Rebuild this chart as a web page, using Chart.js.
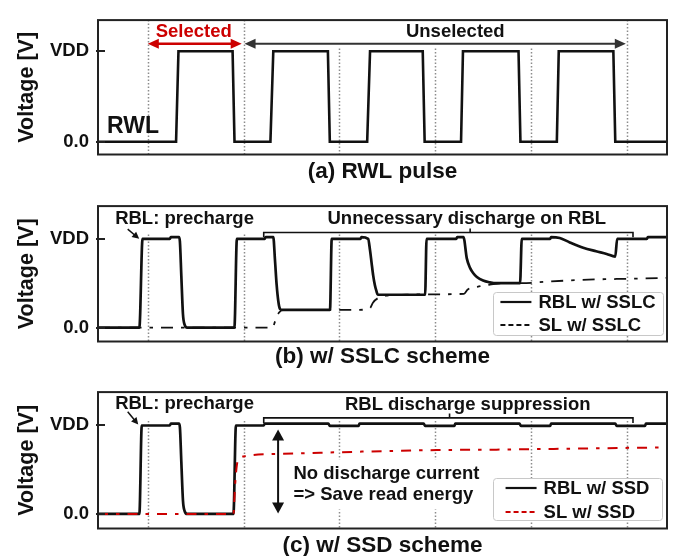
<!DOCTYPE html>
<html><head><meta charset="utf-8">
<script src="https://cdn.jsdelivr.net/npm/chart.js@4.4.1/dist/chart.umd.min.js"></script>
<style>
html,body{margin:0;padding:0;background:#fff;width:674px;height:556px;overflow:hidden}
canvas{position:absolute;left:0}
</style></head><body>
<canvas id="ca" width="674" height="185" style="top:0"></canvas>
<canvas id="cb" width="674" height="184" style="top:186px"></canvas>
<canvas id="cc" width="674" height="187" style="top:372px"></canvas>
<script>
// ---------- data ----------
const yTickValues = [0, 1];
const yTickLabels = ['0.0', 'VDD'];
const periodMarks = [0, 10, 20, 30, 40, 50];

// (a) RWL pulse
const rwlTime = [-5.2, 2.95, 3.2, 8.85, 9.05, 12.8, 13.1, 18.8, 19.0, 22.9, 23.2, 28.7, 28.9, 32.7, 32.9, 38.7, 38.9, 42.7, 42.9, 48.6, 48.8, 54.2];
const rwlVolt = [0, 0, 1, 1, 0, 0, 1, 1, 0, 0, 1, 1, 0, 0, 1, 1, 0, 0, 1, 1, 0, 0];

// (b) with SSLC
const rblSslcTime = [-5.2, -0.88, -0.55, 2.3, 2.4, 3.25, 3.35, 3.5, 3.67, 3.85, 4.1, 9.04, 9.3, 12.2, 12.3, 13.1, 13.27, 13.45, 13.62, 13.8, 14.0, 19.02, 19.2, 22.2, 22.3, 23.0, 23.2, 23.36, 23.53, 23.7, 23.87, 24.0, 24.4, 28.95, 29.1, 32.2, 32.3, 32.95, 33.3, 33.65, 34.0, 34.35, 35.0, 35.7, 36.4, 37.8, 38.86, 39.04, 42.0, 42.1, 43.0, 44.05, 45.45, 46.8, 47.9, 48.8, 49.0, 52.1, 52.2, 54.2];
const rblSslc     = [0, 0, 1.0, 1.0, 1.02, 1.02, 0.97, 0.58, 0.15, 0.03, 0, 0, 1.0, 1.0, 1.02, 1.02, 0.77, 0.48, 0.30, 0.21, 0.2, 0.2, 1.0, 1.0, 1.02, 1.0, 0.87, 0.73, 0.585, 0.48, 0.41, 0.37, 0.37, 0.37, 1.0, 1.0, 1.02, 1.02, 0.78, 0.67, 0.61, 0.57, 0.53, 0.51, 0.5, 0.5, 0.5, 1.0, 1.0, 1.02, 1.01, 0.96, 0.90, 0.86, 0.83, 0.80, 1.0, 1.0, 1.02, 1.02];
const slSslcTime = [-5.2, 13.0, 13.35, 13.7, 14.2, 19.0, 22.0, 23.2, 23.5, 24.0, 25.0, 27.0, 30.0, 33.0, 33.4, 34.4, 35.4, 37.0, 39.0, 42.0, 46.0, 50.0, 54.2];
const slSslc     = [0, 0, 0.09, 0.17, 0.2, 0.2, 0.2, 0.22, 0.28, 0.33, 0.36, 0.37, 0.375, 0.38, 0.43, 0.46, 0.48, 0.5, 0.5, 0.52, 0.54, 0.55, 0.56];

// (c) with SSD
const rblSsdTime = [-5.2, -0.88, -0.63, 2.3, 2.4, 3.25, 3.35, 3.5, 3.67, 3.85, 4.1, 8.94, 9.2, 12.1, 12.2, 18.85, 19.0, 22.0, 22.1, 28.8, 28.95, 32.0, 32.1, 38.8, 38.95, 42.0, 42.1, 48.8, 48.95, 51.9, 52.0, 54.2];
const rblSsd     = [0, 0, 0.99, 0.99, 1.01, 1.01, 0.97, 0.58, 0.15, 0.03, 0, 0, 0.99, 0.99, 1.01, 1.01, 0.985, 0.985, 1.01, 1.01, 0.985, 0.985, 1.01, 1.01, 0.985, 0.985, 1.01, 1.01, 0.985, 0.985, 1.01, 1.01];
const slSsdTime = [-5.2, 8.94, 9.1, 9.3, 9.6, 10.3, 11.0, 12.8, 16.3, 19.7, 23.2, 30.2, 36.4, 46.9, 54.2];
const slSsd     = [0, 0, 0.3, 0.55, 0.62, 0.65, 0.66, 0.67, 0.68, 0.69, 0.70, 0.715, 0.72, 0.735, 0.745];

// ---------- helpers ----------
const FONT = '"Liberation Sans", Arial, Helvetica, sans-serif';
const bold = s => `bold ${s}px ${FONT}`;
const pts = (ts, vs) => ts.map((t, i) => ({x: t, y: vs[i]}));

function head(ctx, x1, y1, x2, y2, len, half) {
  const a = Math.atan2(y2 - y1, x2 - x1), c = Math.cos(a), s = Math.sin(a);
  ctx.beginPath();
  ctx.moveTo(x2, y2);
  ctx.lineTo(x2 - len * c + half * s, y2 - len * s - half * c);
  ctx.lineTo(x2 - len * c - half * s, y2 - len * s + half * c);
  ctx.closePath(); ctx.fill();
}

const panelPlugin = {
  id: 'panel',
  beforeDatasetsDraw(chart, args, o) {
    const {ctx, chartArea: a} = chart, xs = chart.scales.x, ys = chart.scales.y;
    ctx.save();
    ctx.strokeStyle = '#8c8c8c'; ctx.lineWidth = 1.5; ctx.setLineDash([1.5, 2]);
    periodMarks.forEach((t, i) => {
      const x = Math.round(xs.getPixelForValue(t)) + 0.5;
      const top = o.markTops[i] == null ? a.top : ys.getPixelForValue(o.markTops[i]);
      ctx.beginPath(); ctx.moveTo(x, top); ctx.lineTo(x, a.bottom); ctx.stroke();
    });
    ctx.restore();
  },
  afterDatasetsDraw(chart, args, o) {
    const {ctx, chartArea: a} = chart, xs = chart.scales.x, ys = chart.scales.y;
    const X = t => xs.getPixelForValue(t), Y = v => ys.getPixelForValue(v);
    ctx.save();
    (o.items || []).forEach(it => {
      const col = it.color || '#111';
      ctx.fillStyle = col; ctx.strokeStyle = col; ctx.setLineDash([]);
      if (it.type === 'text') {
        ctx.font = bold(it.size || 18.5);
        ctx.textAlign = it.align || 'center'; ctx.textBaseline = 'middle';
        ctx.fillText(it.text, X(it.t), Y(it.v));
      } else if (it.type === 'block') {
        ctx.font = bold(it.size || 18.5);
        const w = Math.max(...it.lines.map(l => ctx.measureText(l).width));
        const x = X(it.t), y1 = Y(it.v), y2 = Y(it.v - it.gap * (it.lines.length - 1));
        ctx.fillStyle = '#fff';
        ctx.fillRect(x - 3, y1 - 15, w + 6, y2 - y1 + 30);
        ctx.fillStyle = col; ctx.textAlign = 'left'; ctx.textBaseline = 'middle';
        it.lines.forEach((l, i) => ctx.fillText(l, x, Y(it.v - it.gap * i)));
      } else if (it.type === 'arrow') {
        const x1 = X(it.t1), y1 = Y(it.v1), x2 = X(it.t2), y2 = Y(it.v2);
        const L = Math.hypot(x2 - x1, y2 - y1), ux = (x2 - x1) / L, uy = (y2 - y1) / L;
        const both = it.heads === 'both';
        ctx.lineWidth = it.lw;
        ctx.beginPath();
        ctx.moveTo(both ? x1 + ux * it.len * 0.8 : x1, both ? y1 + uy * it.len * 0.8 : y1);
        ctx.lineTo(x2 - ux * it.len * 0.8, y2 - uy * it.len * 0.8);
        ctx.stroke();
        head(ctx, x1, y1, x2, y2, it.len, it.half);
        if (both) head(ctx, x2, y2, x1, y1, it.len, it.half);
      } else if (it.type === 'bracket') {
        const x1 = X(it.t1), x2 = X(it.t2), y = Y(it.v), yl = Y(it.legV), xt = X(it.tickT), yt = Y(it.tickV);
        ctx.lineWidth = 1.6;
        ctx.beginPath();
        ctx.moveTo(x1, yl); ctx.lineTo(x1, y); ctx.lineTo(x2, y); ctx.lineTo(x2, yl);
        ctx.moveTo(xt, y); ctx.lineTo(xt, yt);
        ctx.stroke();
      }
    });
    // legend box
    const lg = o.legend;
    if (lg) {
      const bx = a.right - lg.right - lg.w, by = a.bottom - lg.bottom - lg.h;
      ctx.fillStyle = '#fff'; ctx.strokeStyle = '#c8c8c8'; ctx.lineWidth = 1; ctx.setLineDash([]);
      ctx.beginPath(); ctx.roundRect(bx + 0.5, by + 0.5, lg.w, lg.h, 3); ctx.fill(); ctx.stroke();
      ctx.font = bold(18.5);
      const ds = chart.data.datasets;
      const tw = Math.max(...ds.map(d => ctx.measureText(d.label).width));
      const sample = 31, gap = 7;
      const cx = bx + (lg.w - (sample + gap + tw)) / 2;
      ds.forEach((d, i) => {
        const y = by + lg.rows[i];
        ctx.strokeStyle = d.borderColor; ctx.lineWidth = 2.2; ctx.setLineDash(lg.dashes[i]);
        ctx.beginPath(); ctx.moveTo(cx, y); ctx.lineTo(cx + sample, y); ctx.stroke();
        ctx.setLineDash([]);
        ctx.fillStyle = '#111'; ctx.textAlign = 'left'; ctx.textBaseline = 'middle';
        ctx.fillText(d.label, cx + sample + gap, y + 1);
      });
    }
    // frame and inward tick marks
    ctx.setLineDash([]);
    ctx.strokeStyle = '#222'; ctx.lineWidth = 2;
    ctx.strokeRect(a.left, a.top, a.right - a.left, a.bottom - a.top);
    yTickValues.forEach(v => {
      const y = Math.round(Y(v));
      ctx.beginPath(); ctx.moveTo(a.left - 2, y); ctx.lineTo(a.left + 7, y); ctx.stroke();
    });
    ctx.restore();
  }
};

function makeChart(id, p) {
  return new Chart(document.getElementById(id), {
    type: 'line',
    data: {datasets: p.datasets},
    plugins: [panelPlugin],
    options: {
      responsive: false, animation: false, devicePixelRatio: 1,
      layout: {padding: {top: p.padTop, right: 7, left: 0, bottom: 0}},
      elements: {point: {radius: 0}, line: {tension: 0}},
      plugins: {
        legend: {display: false}, tooltip: {enabled: false},
        title: {display: true, text: p.title, position: 'bottom', fullSize: false, color: '#111',
                font: {family: FONT, size: 22.5, weight: 'bold'}, padding: {top: p.titlePad, bottom: 0}},
        panel: {markTops: p.markTops, items: p.items, legend: p.legend}
      },
      scales: {
        x: {type: 'linear', min: -5.2, max: 54.2, display: false},
        y: {
          min: p.yMin, max: p.yMax,
          afterBuildTicks: s => { s.ticks = yTickValues.map(v => ({value: v})); },
          afterFit: s => { s.width = 98; },
          ticks: {callback: v => yTickLabels[yTickValues.indexOf(v)], color: '#111', padding: 9,
                  font: {family: FONT, size: 18.5, weight: 'bold'}},
          grid: {display: false, drawTicks: false},
          border: {display: false},
          title: {display: true, text: 'Voltage [V]', color: '#111', padding: {top: 14.5, bottom: 0},
                  font: {family: FONT, size: 21.5, weight: 'bold'}}
        }
      }
    }
  });
}

makeChart('ca', {
  padTop: 12, titlePad: 3.5, yMin: -0.141, yMax: 1.344, title: '(a) RWL pulse',
  markTops: [null, null, 1.03, 1.03, 1.03, null],
  datasets: [{label: 'RWL', data: pts(rwlTime, rwlVolt), borderColor: '#111', borderWidth: 2.6, fill: false}],
  items: [
    {type: 'text', t: 4.8, v: 1.21, text: 'Selected', color: '#cc0000'},
    {type: 'arrow', t1: 0, v1: 1.083, t2: 9.8, v2: 1.083, color: '#cc0000', lw: 2.5, heads: 'both', len: 11, half: 5},
    {type: 'text', t: 32.1, v: 1.21, text: 'Unselected'},
    {type: 'arrow', t1: 10.1, v1: 1.083, t2: 49.9, v2: 1.083, color: '#333', lw: 2, heads: 'both', len: 11, half: 5},
    {type: 'text', t: -4.25, v: 0.167, text: 'RWL', size: 23, align: 'left'}
  ]
});

makeChart('cb', {
  padTop: 12, titlePad: 1.5, yMin: -0.157, yMax: 1.369, title: '(b) w/ SSLC scheme',
  markTops: [1.05, 1.05, 1.05, 1.05, 1.05, 1.05],
  datasets: [
    {label: 'RBL w/ SSLC', data: pts(rblSslcTime, rblSslc), borderColor: '#111', borderWidth: 2.7, fill: false, cubicInterpolationMode: 'monotone', order: 1},
    {label: 'SL w/ SSLC', data: pts(slSslcTime, slSslc), borderColor: '#111', borderWidth: 1.8, borderDash: [12, 8, 3.5, 8], fill: false, cubicInterpolationMode: 'monotone', order: 0}
  ],
  items: [
    {type: 'text', t: -3.41, v: 1.225, text: 'RBL: precharge', align: 'left'},
    {type: 'arrow', t1: -2.1, v1: 1.11, t2: -0.9, v2: 1.0, heads: 'end', lw: 1.5, len: 7, half: 3.5},
    {type: 'text', t: 33.3, v: 1.225, text: 'Unnecessary discharge on RBL'},
    {type: 'bracket', t1: 12.1, t2: 50.65, v: 1.071, legV: 1.018, tickT: 33.65, tickV: 1.117}
  ],
  legend: {right: 4, bottom: 6.5, w: 170, h: 43, rows: [10, 33], dashes: [[], [5, 3]]}
});

makeChart('cc', {
  padTop: 14, titlePad: 3.5, yMin: -0.163, yMax: 1.364, title: '(c) w/ SSD scheme',
  markTops: [1.04, 1.04, 1.04, 1.04, 1.04, 1.04],
  datasets: [
    {label: 'RBL w/ SSD', data: pts(rblSsdTime, rblSsd), borderColor: '#111', borderWidth: 2.7, fill: false, cubicInterpolationMode: 'monotone', order: 1},
    {label: 'SL w/ SSD', data: pts(slSsdTime, slSsd), borderColor: '#cc0000', borderWidth: 2, borderDash: [10, 8, 3.5, 8], fill: false, cubicInterpolationMode: 'monotone', order: 0}
  ],
  items: [
    {type: 'text', t: -3.41, v: 1.233, text: 'RBL: precharge', align: 'left'},
    {type: 'arrow', t1: -2.1, v1: 1.145, t2: -1.0, v2: 1.0, heads: 'end', lw: 1.5, len: 7, half: 3.5},
    {type: 'text', t: 33.4, v: 1.225, text: 'RBL discharge suppression'},
    {type: 'bracket', t1: 12.1, t2: 50.65, v: 1.075, legV: 1.018, tickT: 31.5, tickV: 1.125},
    {type: 'arrow', t1: 13.6, v1: 0.946, t2: 13.6, v2: 0.006, heads: 'both', lw: 2, len: 11, half: 6},
    {type: 'block', t: 15.2, v: 0.443, gap: 0.225, lines: ['No discharge current', '=> Save read energy']}
  ],
  legend: {right: 5, bottom: 8.5, w: 169, h: 42, rows: [10, 34], dashes: [[], [5, 3]]}
});
</script>
</body></html>
